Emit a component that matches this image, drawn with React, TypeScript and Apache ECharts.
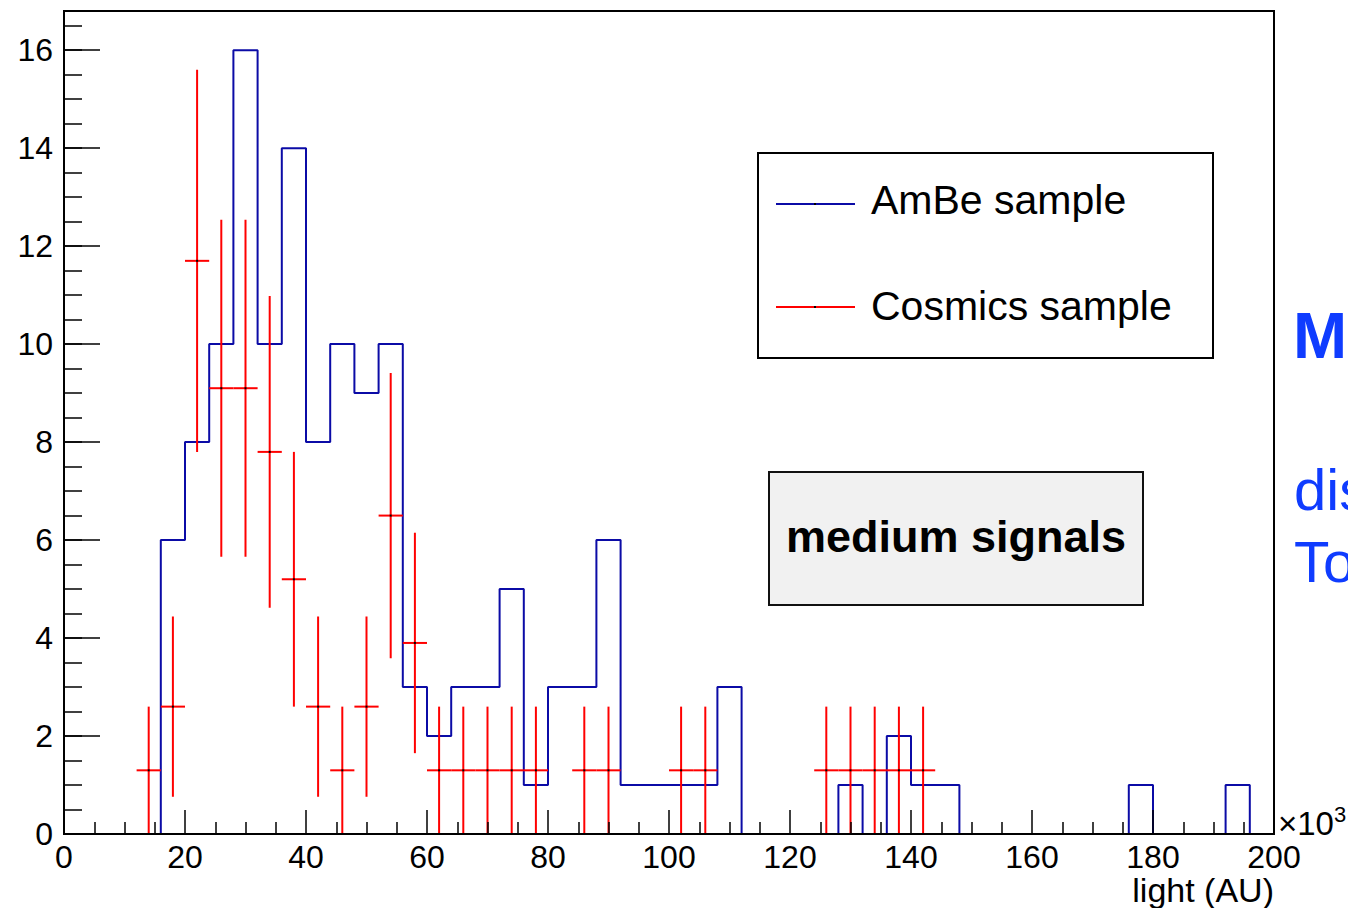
import React, { useEffect, useRef } from "react";
import * as echarts from "echarts";

// AmBe histogram: 50 bins of width 4 (x in units of 10^3), from 0 to 200
const binStart = 0;
const binWidth = 4;
const ambeCounts = [
  0, 0, 0, 0, 6, 8, 10, 16, 10, 14,
  8, 10, 9, 10, 3, 2, 3, 3, 5, 1,
  3, 3, 6, 1, 1, 1, 1, 3, 0, 0,
  0, 0, 1, 0, 2, 1, 1, 0, 0, 0,
  0, 0, 0, 0, 1, 0, 0, 0, 1, 0,
];

// Cosmics sample: bin centres, scaled values and error bars
const cosmicsCenters = [14, 18, 22, 26, 30, 34, 38, 42, 46, 50, 54, 58, 62, 66, 70, 74, 78, 86, 90, 102, 106, 126, 130, 134, 138, 142];
const cosmicsValues = [1.3, 2.6, 11.7, 9.1, 9.1, 7.8, 5.2, 2.6, 1.3, 2.6, 6.5, 3.9, 1.3, 1.3, 1.3, 1.3, 1.3, 1.3, 1.3, 1.3, 1.3, 1.3, 1.3, 1.3, 1.3, 1.3];
const cosmicsErrors = [1.3, 1.84, 3.9, 3.44, 3.44, 3.18, 2.6, 1.84, 1.3, 1.84, 2.91, 2.25, 1.3, 1.3, 1.3, 1.3, 1.3, 1.3, 1.3, 1.3, 1.3, 1.3, 1.3, 1.3, 1.3, 1.3];

const xTicks = { min: 0, max: 200, interval: 20 };
const yTicks = { min: 0, max: 16.8, interval: 2, minorInterval: 0.5 };

const FONT = "'Liberation Sans', Arial, Helvetica, sans-serif";
const BLUE = "#0b0ba6";
const RED = "#ff0000";
const SLIDE_BLUE = "#0f3cff";

export default function App() {
  const ref = useRef<HTMLDivElement>(null);

  useEffect(() => {
    if (!ref.current) return;
    const chart = echarts.init(ref.current, undefined, { renderer: "svg" });

    const stepData: number[][] = ambeCounts.map((c, i) => [binStart + i * binWidth, c]);
    stepData.push([binStart + ambeCounts.length * binWidth, ambeCounts[ambeCounts.length - 1]]);

    const errData = cosmicsCenters.map((c, i) => [c, cosmicsValues[i], cosmicsErrors[i]]);

    const option: any = {
      animation: false,
      backgroundColor: "#ffffff",
      grid: {
        left: 64,
        top: 11,
        width: 1210,
        height: 823,
        show: true,
        borderColor: "#000",
        borderWidth: 2,
        backgroundColor: "transparent",
      },
      xAxis: {
        type: "value",
        z: 5,
        min: xTicks.min,
        max: xTicks.max,
        interval: xTicks.interval,
        axisLine: { show: true, lineStyle: { color: "#000", width: 2 } },
        axisTick: { show: true, inside: true, length: 24, lineStyle: { color: "#000", width: 1.5 } },
        minorTick: { show: true, splitNumber: 4, length: 12, lineStyle: { color: "#000", width: 1.5 } },
        splitLine: { show: false },
        minorSplitLine: { show: false },
        axisLabel: { color: "#000", fontSize: 32, fontFamily: FONT, margin: 7 },
      },
      yAxis: [
        {
          type: "value",
          z: 5,
          min: yTicks.min,
          max: yTicks.max,
          interval: yTicks.interval,
          axisLine: { show: true, lineStyle: { color: "#000", width: 2 } },
          axisTick: { show: true, inside: true, length: 36, lineStyle: { color: "#000", width: 1.5 } },
          splitLine: { show: false },
          axisLabel: { color: "#000", fontSize: 32, fontFamily: FONT, margin: 11, showMaxLabel: false },
        },
        {
          type: "value",
          position: "left",
          min: yTicks.min,
          max: yTicks.max,
          interval: yTicks.minorInterval,
          axisLine: { show: false },
          axisTick: { show: true, inside: true, length: 18, lineStyle: { color: "#000", width: 1.5 } },
          splitLine: { show: false },
          axisLabel: { show: false },
        },
      ],
      series: [
        {
          name: "AmBe sample",
          type: "line",
          step: "end",
          data: stepData,
          symbol: "none",
          lineStyle: { color: BLUE, width: 2 },
          z: 2,
        },
        {
          name: "Cosmics sample",
          type: "custom",
          data: errData,
          z: 3,
          renderItem: (params: any, api: any) => {
            const x = api.value(0);
            const y = api.value(1);
            const e = api.value(2);
            const l = api.coord([x - binWidth / 2, y]);
            const r = api.coord([x + binWidth / 2, y]);
            const t = api.coord([x, y + e]);
            const b = api.coord([x, Math.max(0, y - e)]);
            const c = api.coord([x, y]);
            return {
              type: "group",
              children: [
                { type: "line", shape: { x1: l[0], y1: l[1], x2: r[0], y2: r[1] }, style: { stroke: RED, lineWidth: 2 } },
                { type: "line", shape: { x1: t[0], y1: t[1], x2: b[0], y2: b[1] }, style: { stroke: RED, lineWidth: 2 } },
                { type: "rect", shape: { x: c[0] - 1, y: c[1] - 1, width: 2, height: 2 }, style: { fill: "#000" } },
              ],
            };
          },
        },
      ],
      graphic: [
        // ×10^3 and axis title
        {
          type: "text",
          x: 1278,
          y: 823,
          style: {
            text: "×10{s|3}",
            font: `33px ${FONT}`,
            fill: "#000",
            verticalAlign: "middle",
            rich: { s: { fontSize: 22, fontFamily: FONT, padding: [0, 0, 18, 0] } },
          },
        },
        {
          type: "text",
          x: 1274,
          y: 890,
          style: { text: "light (AU)", font: `34px ${FONT}`, fill: "#000", align: "right", verticalAlign: "middle" },
        },
        // legend
        {
          type: "rect",
          shape: { x: 758, y: 153, width: 455, height: 205 },
          style: { fill: "#fff", stroke: "#000", lineWidth: 2 },
          z: 10,
        },
        { type: "line", shape: { x1: 776, y1: 204, x2: 855, y2: 204 }, style: { stroke: BLUE, lineWidth: 2 }, z: 11 },
        { type: "rect", shape: { x: 814, y: 203, width: 2, height: 2 }, style: { fill: "#000" }, z: 12 },
        { type: "line", shape: { x1: 776, y1: 307, x2: 855, y2: 307 }, style: { stroke: RED, lineWidth: 2 }, z: 11 },
        { type: "rect", shape: { x: 814, y: 306, width: 2, height: 2 }, style: { fill: "#000" }, z: 12 },
        {
          type: "text",
          x: 871,
          y: 200,
          z: 11,
          style: { text: "AmBe sample", font: `41px ${FONT}`, fill: "#000", verticalAlign: "middle" },
        },
        {
          type: "text",
          x: 871,
          y: 306,
          z: 11,
          style: { text: "Cosmics sample", font: `41px ${FONT}`, fill: "#000", verticalAlign: "middle" },
        },
        // medium signals box
        {
          type: "rect",
          shape: { x: 769, y: 472, width: 374, height: 133 },
          style: { fill: "#f1f1f1", stroke: "#111", lineWidth: 2 },
          z: 10,
        },
        {
          type: "text",
          x: 956,
          y: 536,
          z: 11,
          style: { text: "medium signals", font: `bold 45px ${FONT}`, fill: "#000", align: "center", verticalAlign: "middle" },
        },
        // slide text cut off at the right edge (as in the reference)
        {
          type: "text",
          x: 1293,
          y: 358 - 0.3465 * 65,
          style: { text: "M", font: `bold 65px ${FONT}`, fill: SLIDE_BLUE, verticalAlign: "middle" },
        },
        {
          type: "text",
          x: 1294,
          y: 510 - 0.3465 * 58,
          style: { text: "dis", font: `58px ${FONT}`, fill: SLIDE_BLUE, verticalAlign: "middle" },
        },
        {
          type: "text",
          x: 1294,
          y: 582 - 0.3465 * 58,
          style: { text: "To", font: `58px ${FONT}`, fill: SLIDE_BLUE, verticalAlign: "middle" },
        },
      ],
    };

    chart.setOption(option);
    return () => chart.dispose();
  }, []);

  return (
    <div
      ref={ref}
      style={{ position: "absolute", left: 0, top: 0, width: 1348, height: 908, background: "#fff" }}
    />
  );
}
